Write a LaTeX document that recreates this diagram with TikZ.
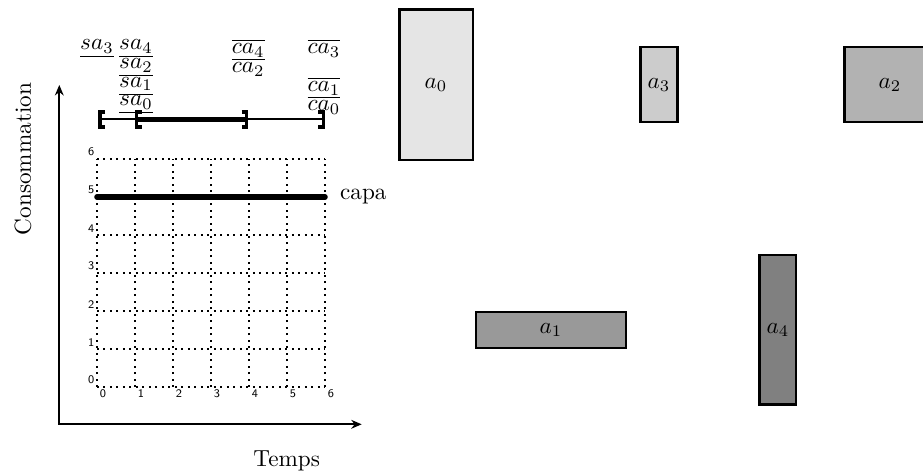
\documentclass[tikz,border=0pt]{standalone}
\usetikzlibrary{arrows.meta}
\begin{document}
\begin{tikzpicture}[x=0.431pt,y=-0.431pt,
  box/.style={draw=black, line width=1pt},
  axis/.style={line width=0.7pt, {Stealth[length=4.5pt,width=3.8pt]}-{Stealth[length=4.5pt,width=3.8pt]}},
  gridl/.style={thick, dotted},
  tick/.style={font=\sffamily\tiny, inner sep=1pt},
  capaline/.style={line width=2.4pt, line cap=round},
  thinint/.style={line width=0.8pt},
  thickint/.style={line width=2.2pt},
  brk/.style={line width=1.4pt},
  lab/.style={anchor=base, inner sep=0pt}]
\useasboundingbox (0,0) rectangle (923,474);
\clip (0,0) rectangle (923,474);
% axes
\coordinate (O) at (59.3,424.3);
\coordinate (Ytip) at (59.3,85);
\coordinate (Xtip) at (361.7,424.3);
\draw[axis] (Ytip) -- (O) -- (Xtip);
\node[rotate=90] (cons) at (23,159) {Consommation};
\node[anchor=base] (temps) at (286.7,466.7) {Temps};
% grid
\begin{scope}[shift={(97,387)}, x=16.378pt, y=16.378pt]
  \draw[gridl, step=1] (0,0) grid (6,6);
  \foreach \i in {0,...,6} {
    \node[tick, anchor=north west] (tx\i) at (\i,0) {\i};
    \node[tick, anchor=south east] (ty\i) at (0,\i) {\i};
  }
  \coordinate (c0) at (0,5);
  \coordinate (c6) at (6,5);
  \draw[capaline] (c0) -- (c6) node[right, xshift=2pt] (capa) {capa};
\end{scope}
% intervals
\coordinate (i0) at (100,119.3);
\coordinate (i1) at (136.7,119.3);
\coordinate (i4) at (246.7,119.3);
\coordinate (i6) at (323.3,119.3);
\draw[thinint] (i0) -- (i6);
\draw[thickint] (i1) -- (i4);
\draw[brk] (105,112) -- (100,112) -- (100,127) -- (105,127);
\draw[brk] (141.7,112) -- (136.7,112) -- (136.7,127) -- (141.7,127);
\draw[brk] (241.7,112) -- (246.7,112) -- (246.7,127) -- (241.7,127);
\draw[brk] (318.3,112) -- (323.3,112) -- (323.3,127) -- (318.3,127);
% labels
\node[lab] (sa3) at (97,50) {$\underline{sa_3}$};
\node[lab] (sa4) at (136,50) {$\underline{sa_4}$};
\node[lab] (sa2) at (136,68.7) {$\underline{sa_2}$};
\node[lab] (sa1) at (136,87.3) {$\underline{sa_1}$};
\node[lab] (sa0) at (136,106) {$\underline{sa_0}$};
\node[lab] (ca4) at (248.3,54) {$\overline{ca_4}$};
\node[lab] (ca2) at (248.3,73) {$\overline{ca_2}$};
\node[lab] (ca3) at (324,54) {$\overline{ca_3}$};
\node[lab] (ca1) at (324,92) {$\overline{ca_1}$};
\node[lab] (ca0) at (324,111) {$\overline{ca_0}$};
% boxes
\draw[box, fill=black!10] (399.5,9.5) rectangle (473,160);
\node (a0) at (436,85) {$a_0$};
\draw[box, fill=black!20] (640.5,47) rectangle (677.5,122);
\node (a3) at (659,85) {$a_3$};
\draw[box, fill=black!30] (844.5,47) rectangle (940,122);
\node (a2) at (890,85) {$a_2$};
\draw[box, fill=black!40] (476,312) rectangle (626,348);
\node (a1) at (551,330) {$a_1$};
\draw[box, fill=black!50] (759.5,255) rectangle (796,404.5);
\node (a4) at (778,330) {$a_4$};
\end{tikzpicture}
\end{document}
